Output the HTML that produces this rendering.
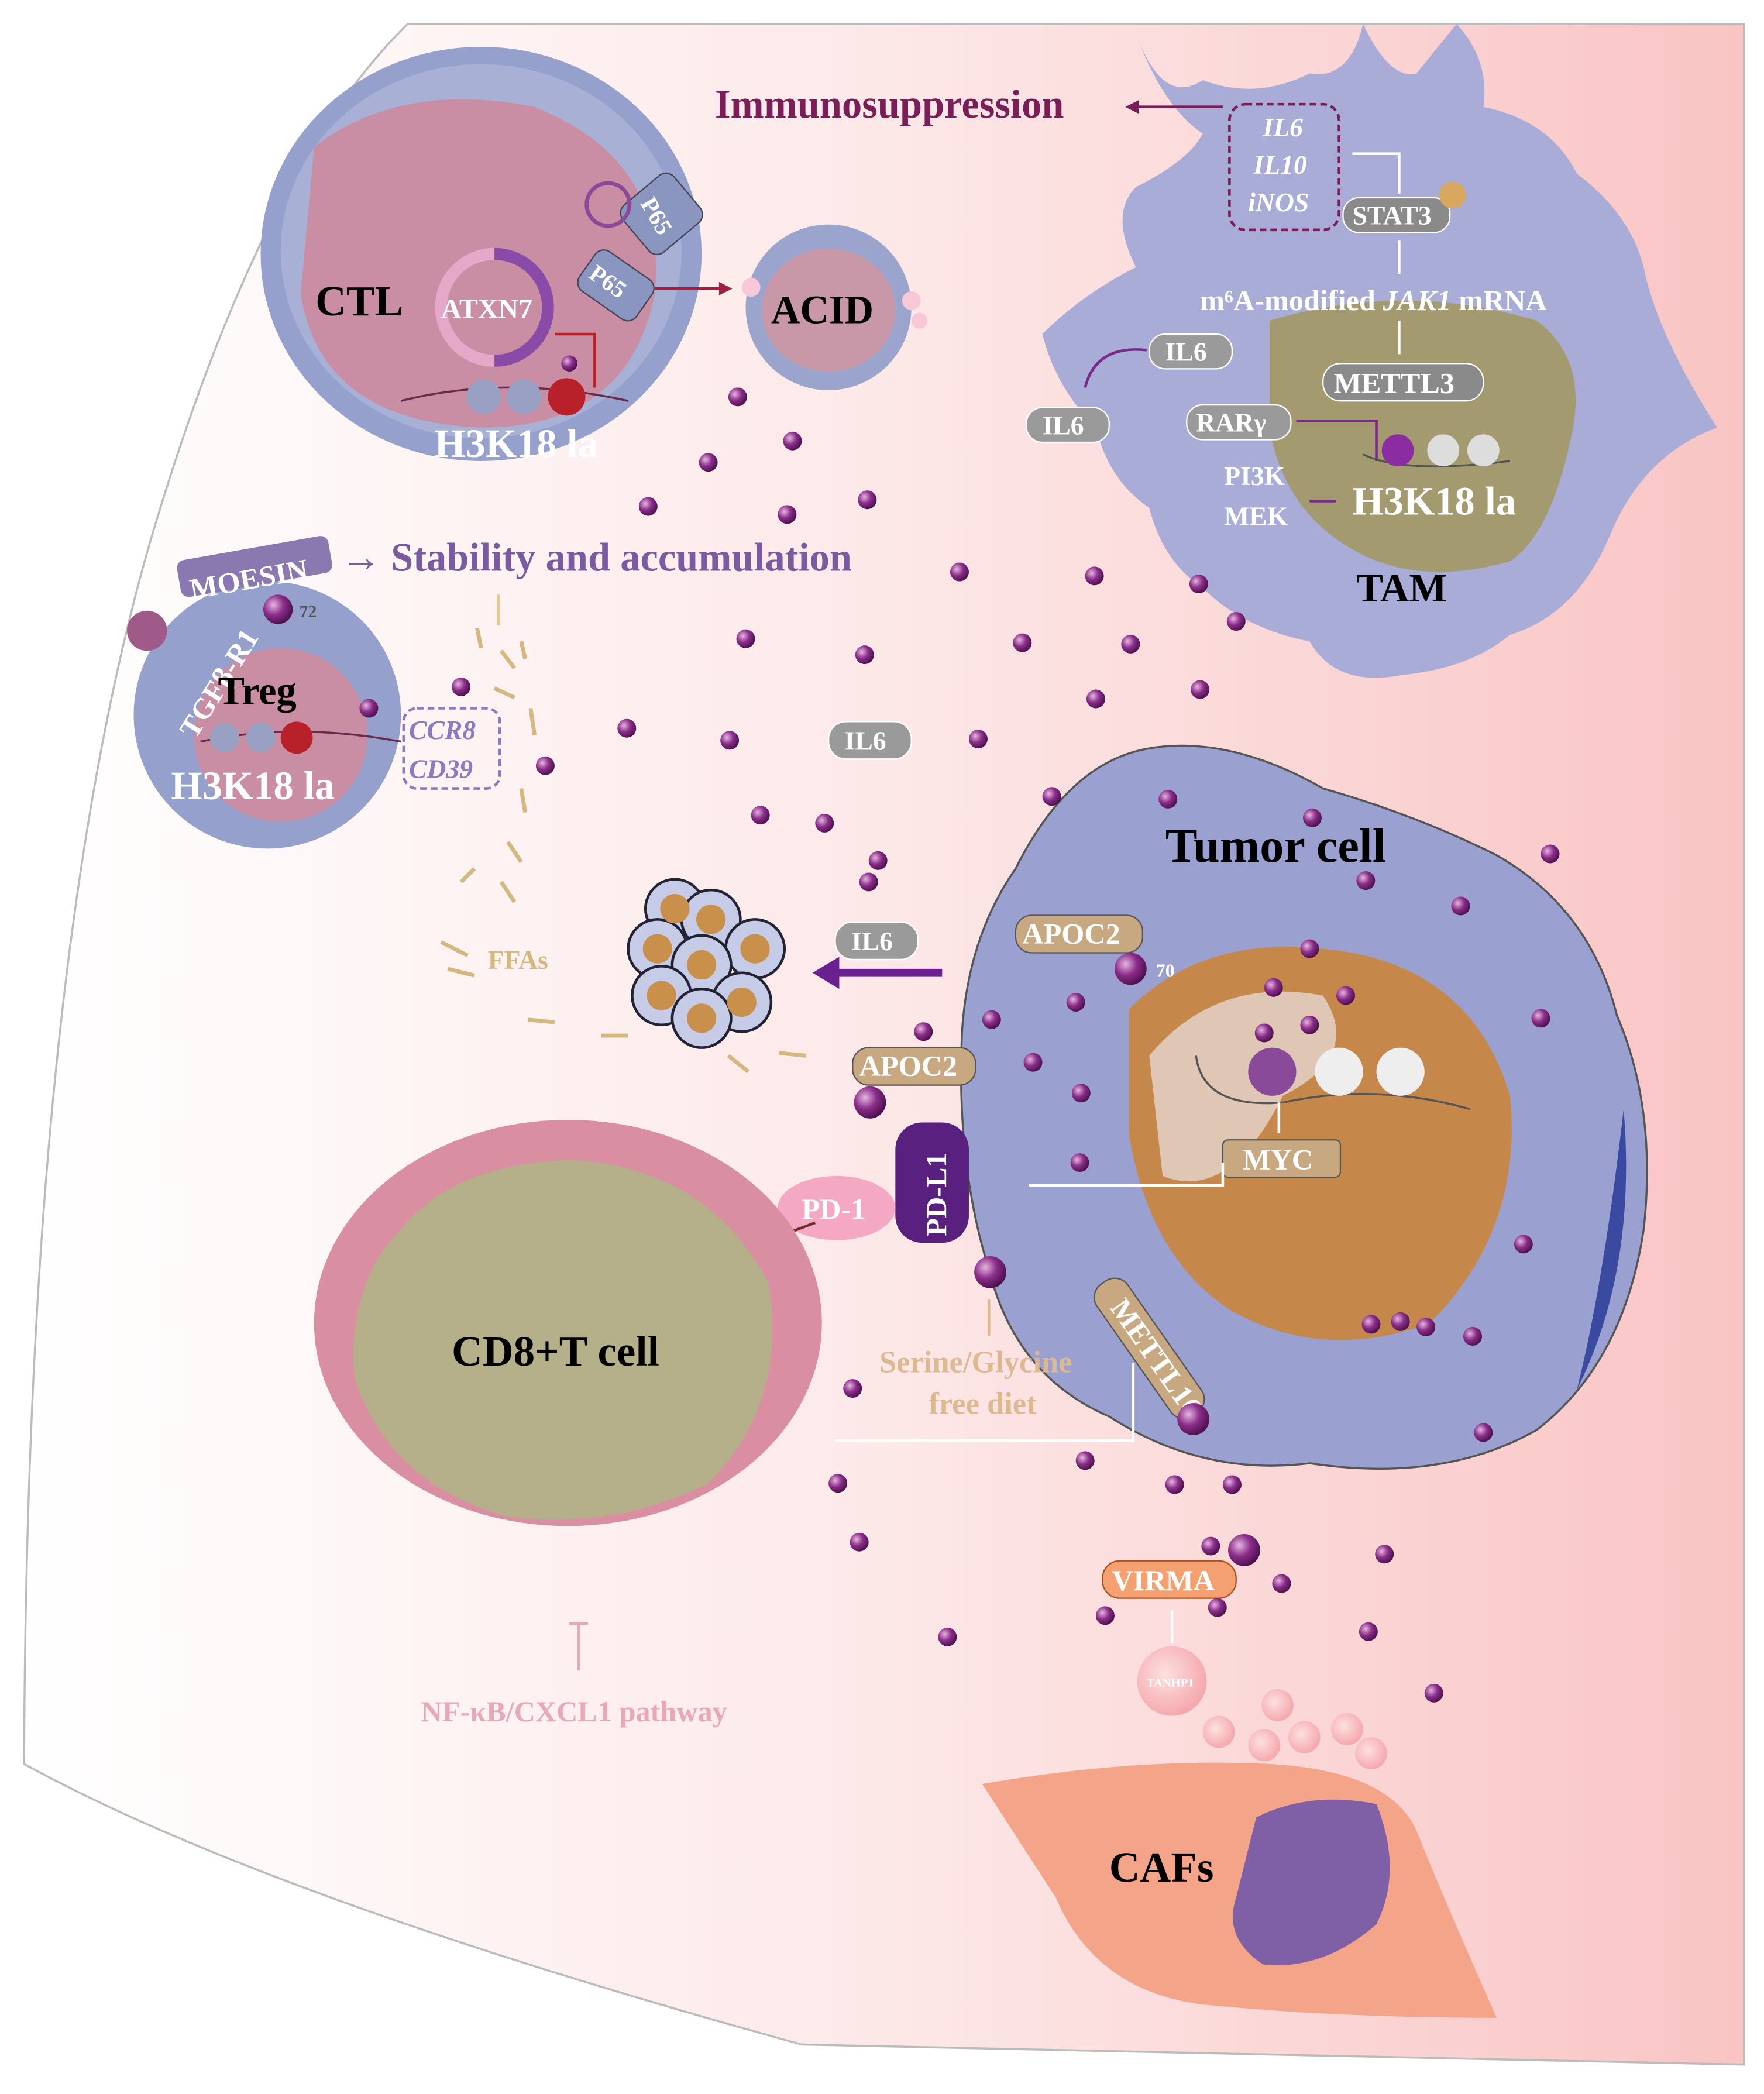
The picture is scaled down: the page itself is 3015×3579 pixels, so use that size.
<!DOCTYPE html>
<html><head><meta charset="utf-8"><style>
html,body{margin:0;padding:0;background:#fff}
svg{display:block}
text{font-family:"Liberation Serif",serif;font-weight:bold}
</style></head><body>
<svg width="3015" height="3579" viewBox="0 0 1320 1567" xmlns="http://www.w3.org/2000/svg">
<defs>
<linearGradient id="bg" x1="0" x2="1" y1="0" y2="0"><stop offset="0" stop-color="#ffffff"/><stop offset="0.5" stop-color="#fde8e8"/><stop offset="1" stop-color="#f9c4c4"/></linearGradient>
<radialGradient id="dot" cx="0.35" cy="0.35" r="0.7"><stop offset="0" stop-color="#e6b6e0"/><stop offset="0.5" stop-color="#8a2d8a"/><stop offset="1" stop-color="#4a0f4a"/></radialGradient>
<radialGradient id="pk" cx="0.4" cy="0.4" r="0.7"><stop offset="0" stop-color="#fde0e0"/><stop offset="1" stop-color="#f4a0a6"/></radialGradient>
</defs>
<path d="M305,18 L1305,18 L1305,1545 L600,1530 Q200,1420 18,1320 Q20,700 120,380 Q200,120 305,18 Z" fill="url(#bg)" stroke="#bbb" stroke-width="1.5"/>
<!-- CTL -->
<ellipse cx="360" cy="190" rx="165" ry="155" fill="#95a0cc"/>
<ellipse cx="360" cy="188" rx="150" ry="140" fill="#a8b0d6"/>
<path d="M235,110 Q300,60 400,80 Q500,120 490,220 Q470,320 360,320 Q240,315 225,220 Z" fill="#c98ea3"/>
<circle cx="370" cy="230" r="40" fill="none" stroke="#e6a8c8" stroke-width="9"/>
<path d="M370,190 A40,40 0 0 1 370,270" fill="none" stroke="#8a4aa8" stroke-width="9"/>
<text x="236" y="236" font-size="32">CTL</text>
<text x="330" y="238" font-size="21" fill="#fff">ATXN7</text>
<path d="M300,300 Q380,280 470,300" fill="none" stroke="#6a2a4a" stroke-width="1.5"/>
<circle cx="362" cy="297" r="13" fill="#9aa0c4"/><circle cx="392" cy="297" r="13" fill="#9aa0c4"/><circle cx="424" cy="297" r="14" fill="#b8202a"/>
<circle cx="426" cy="272" r="6" fill="url(#dot)"/>
<path d="M445,290 L445,250 L415,250" fill="none" stroke="#b8202a" stroke-width="2"/>
<text x="325" y="342" font-size="30" fill="#fff">H3K18 la</text>
<rect x="472" y="135" width="46" height="50" rx="8" fill="#8a95c0" stroke="#445" transform="rotate(50 495 160)"/>
<text x="480" y="170" font-size="18" fill="#fff" transform="rotate(60 495 160)">P65</text>
<rect x="435" y="195" width="52" height="36" rx="8" fill="#8a95c0" stroke="#445" transform="rotate(35 460 213)"/>
<text x="440" y="220" font-size="18" fill="#fff" transform="rotate(35 460 213)">P65</text>
<path d="M490,216 L545,216" stroke="#a02040" stroke-width="2"/><path d="M548,216 L538,211 L538,221Z" fill="#a02040"/>
<circle cx="455" cy="153" r="16" fill="none" stroke="#8a4a9a" stroke-width="3"/>
<!-- ACID -->
<circle cx="620" cy="230" r="62" fill="#9aa4cc"/>
<ellipse cx="620" cy="232" rx="50" ry="46" fill="#c998a8"/>
<text x="577" y="242" font-size="30">ACID</text>
<circle cx="562" cy="215" r="7" fill="#f8c8d8"/><circle cx="682" cy="225" r="7" fill="#f8c8d8"/><circle cx="688" cy="240" r="6" fill="#f8c8d8"/>
<!-- TAM -->
<path d="M850,25 Q870,80 900,60 Q940,75 980,55 Q1010,60 1020,18 Q1040,60 1060,55 Q1080,30 1090,18 Q1115,45 1110,80 Q1160,90 1180,130 Q1220,160 1230,200 Q1240,250 1285,320 Q1230,340 1205,400 Q1180,460 1130,475 Q1100,500 1050,505 Q1000,515 980,480 Q930,470 900,440 Q870,420 860,380 Q830,360 820,320 Q790,290 780,250 Q810,220 850,200 Q830,160 850,140 Q890,120 900,100 Q870,80 850,25 Z" fill="#a8acd6"/>
<path d="M950,240 Q1050,210 1150,240 Q1190,270 1175,330 Q1160,400 1130,420 Q1060,440 1010,410 Q960,380 950,320 Z" fill="#a39a70"/>
<text x="535" y="88" font-size="30" fill="#7a1e5a">Immunosuppression</text>
<path d="M915,80 L845,80" stroke="#7a1e5a" stroke-width="2"/><path d="M842,80 L852,75 L852,85Z" fill="#7a1e5a"/>
<rect x="920" y="78" width="82" height="94" rx="12" fill="none" stroke="#7a1e5a" stroke-width="2" stroke-dasharray="5,3"/>
<text x="945" y="102" font-size="20" fill="#fff" font-style="italic">IL6</text>
<text x="938" y="130" font-size="20" fill="#fff" font-style="italic">IL10</text>
<text x="934" y="158" font-size="20" fill="#fff" font-style="italic">iNOS</text>
<path d="M1047,145 L1047,115 L1012,115" fill="none" stroke="#fff" stroke-width="2"/>
<path d="M1047,205 L1047,180 M1047,265 L1047,240" stroke="#fff" stroke-width="2"/>
<rect x="1005" y="148" width="80" height="26" rx="12" fill="#8a8a8a" stroke="#fff"/>
<text x="1012" y="168" font-size="20" fill="#fff">STAT3</text>
<circle cx="1087" cy="146" r="10" fill="#d9a860"/>
<text x="898" y="232" font-size="22" fill="#fff">m⁶A-modified <tspan font-style="italic">JAK1</tspan> mRNA</text>
<rect x="990" y="272" width="120" height="28" rx="13" fill="#8a8a8a" stroke="#fff"/>
<text x="998" y="294" font-size="22" fill="#fff">METTL3</text>
<rect x="860" y="250" width="62" height="26" rx="12" fill="#9a9a9a" stroke="#fff"/>
<text x="872" y="270" font-size="20" fill="#fff">IL6</text>
<path d="M858,262 Q820,258 812,290" fill="none" stroke="#7a2a8a" stroke-width="2"/>
<rect x="768" y="305" width="62" height="26" rx="12" fill="#9a9a9a" stroke="#fff"/>
<text x="780" y="325" font-size="20" fill="#fff">IL6</text>
<rect x="888" y="303" width="78" height="26" rx="12" fill="#9a9a9a" stroke="#fff"/>
<text x="895" y="323" font-size="20" fill="#fff">RARγ</text>
<path d="M970,315 L1030,315 L1030,345" fill="none" stroke="#7a2a8a" stroke-width="2"/>
<path d="M1000,375 L980,375" stroke="#7a2a8a" stroke-width="2"/>
<text x="916" y="363" font-size="20" fill="#fff">PI3K</text>
<text x="916" y="393" font-size="20" fill="#fff">MEK</text>
<path d="M1020,340 Q1050,355 1130,345" fill="none" stroke="#555" stroke-width="1.5"/>
<circle cx="1046" cy="337" r="12" fill="#8a2da0"/><circle cx="1080" cy="337" r="12" fill="#ddd"/><circle cx="1110" cy="337" r="12" fill="#ddd"/>
<text x="1012" y="385" font-size="30" fill="#fff">H3K18 la</text>
<text x="1015" y="450" font-size="30">TAM</text>
<!-- Treg -->
<circle cx="200" cy="535" r="100" fill="#95a0cc"/>
<circle cx="210" cy="550" r="65" fill="#c98ea3"/>
<circle cx="110" cy="472" r="15" fill="#a05a8a"/>
<rect x="133" y="410" width="115" height="28" rx="6" fill="#8a78b0" transform="rotate(-10 190 424)"/>
<text x="140" y="440" font-size="22" fill="#fff" transform="rotate(-10 190 424)">MOESIN</text>
<text x="255" y="427" font-size="30" fill="#7a5aa0">→ Stability and accumulation</text>
<path d="M373,468 L373,445" stroke="#e8c890" stroke-width="2"/>
<circle cx="208" cy="456" r="11" fill="url(#dot)"/><text x="224" y="462" font-size="13" fill="#555">72</text>
<text x="105" y="560" font-size="22" fill="#fff" transform="rotate(-58 120 520)">TGFβ-R1</text>
<text x="163" y="527" font-size="30">Treg</text>
<path d="M150,555 Q220,540 300,555" fill="none" stroke="#6a2a4a" stroke-width="1.5"/>
<circle cx="168" cy="552" r="11" fill="#9aa0c4"/><circle cx="195" cy="552" r="11" fill="#9aa0c4"/><circle cx="222" cy="552" r="12" fill="#b8202a"/>
<text x="128" y="598" font-size="30" fill="#fff">H3K18 la</text>
<rect x="302" y="530" width="72" height="60" rx="10" fill="none" stroke="#8a7ac0" stroke-width="2" stroke-dasharray="5,3"/>
<text x="306" y="553" font-size="20" fill="#8a7ac0" font-style="italic">CCR8</text>
<text x="306" y="582" font-size="20" fill="#8a7ac0" font-style="italic">CD39</text>
<!-- FFAs and lipid cluster -->
<g stroke="#d4b880" stroke-width="3">
<line x1="357" y1="470" x2="360" y2="485"/><line x1="375" y1="487" x2="385" y2="500"/><line x1="370" y1="515" x2="385" y2="522"/><line x1="397" y1="530" x2="400" y2="550"/><line x1="390" y1="590" x2="393" y2="608"/><line x1="380" y1="630" x2="390" y2="645"/><line x1="345" y1="660" x2="355" y2="650"/><line x1="375" y1="660" x2="385" y2="675"/><line x1="330" y1="705" x2="350" y2="715"/><line x1="335" y1="725" x2="355" y2="730"/><line x1="395" y1="763" x2="415" y2="765"/><line x1="450" y1="775" x2="470" y2="775"/><line x1="545" y1="790" x2="560" y2="802"/><line x1="583" y1="788" x2="603" y2="790"/><line x1="390" y1="480" x2="393" y2="493"/>
</g>
<text x="365" y="725" font-size="20" fill="#d4b880">FFAs</text>
<g stroke="#223" stroke-width="2" fill="#c6cce8">
<circle cx="505" cy="680" r="22"/><circle cx="532" cy="688" r="22"/><circle cx="492" cy="710" r="22"/><circle cx="565" cy="710" r="22"/><circle cx="525" cy="722" r="22"/><circle cx="495" cy="745" r="22"/><circle cx="555" cy="750" r="22"/><circle cx="525" cy="762" r="22"/>
</g>
<g fill="#c8904a"><circle cx="505" cy="680" r="11"/><circle cx="532" cy="688" r="11"/><circle cx="492" cy="710" r="11"/><circle cx="565" cy="710" r="11"/><circle cx="525" cy="722" r="11"/><circle cx="495" cy="745" r="11"/><circle cx="555" cy="750" r="11"/><circle cx="525" cy="762" r="11"/></g>
<rect x="620" y="540" width="62" height="28" rx="13" fill="#9a9a9a" stroke="#fff"/><text x="632" y="561" font-size="20" fill="#fff">IL6</text>
<rect x="625" y="690" width="62" height="28" rx="13" fill="#9a9a9a" stroke="#fff"/><text x="637" y="711" font-size="20" fill="#fff">IL6</text>
<path d="M705,728 L620,728" stroke="#6a2090" stroke-width="6"/><path d="M608,728 L628,716 L628,740 Z" fill="#6a2090"/>
<!-- Tumor cell -->
<path d="M760,650 Q800,570 860,560 Q920,550 990,590 Q1060,610 1120,640 Q1190,680 1210,760 Q1240,830 1230,920 Q1215,1020 1150,1070 Q1080,1110 980,1095 Q900,1105 830,1060 Q760,1030 740,950 Q715,870 720,770 Q725,700 760,650 Z" fill="#9aa0d0" stroke="#555" stroke-width="1.5"/>
<path d="M1215,830 Q1225,950 1180,1040 Q1200,960 1215,830 Z" fill="#3a4aa0"/>
<path d="M845,755 Q900,700 990,710 Q1100,720 1130,820 Q1140,920 1070,990 Q990,1020 920,980 Q860,940 845,850 Z" fill="#c6884a"/>
<path d="M860,790 Q910,730 990,745 Q1020,790 960,820 Q920,900 870,880 Z" fill="#e0c6b4"/>
<text x="872" y="645" font-size="36">Tumor cell</text>
<path d="M895,790 Q900,830 960,825 Q1030,810 1100,830" fill="none" stroke="#555" stroke-width="1.5"/>
<circle cx="952" cy="802" r="18" fill="#8a4a9a"/><circle cx="1002" cy="802" r="18" fill="#eee"/><circle cx="1048" cy="802" r="18" fill="#eee"/>
<path d="M957,825 L957,848" stroke="#fff" stroke-width="2"/>
<rect x="915" y="853" width="88" height="28" rx="4" fill="#c8a880" stroke="#555"/>
<text x="930" y="875" font-size="22" fill="#fff">MYC</text>
<path d="M915,870 L915,887 L770,887" stroke="#fff" stroke-width="2" fill="none"/>
<rect x="760" y="685" width="95" height="28" rx="12" fill="#c8a880" stroke="#555"/><text x="765" y="706" font-size="22" fill="#fff">APOC2</text>
<circle cx="846" cy="725" r="12" fill="url(#dot)"/><text x="865" y="731" font-size="14" fill="#fff">70</text>
<rect x="638" y="784" width="92" height="28" rx="12" fill="#c8a880" stroke="#555"/><text x="643" y="805" font-size="22" fill="#fff">APOC2</text>
<circle cx="651" cy="825" r="12" fill="url(#dot)"/>
<rect x="670" y="840" width="55" height="90" rx="20" fill="#5a2080"/>
<text x="708" y="925" font-size="22" fill="#fff" transform="rotate(-90 708 925)">PD-L1</text>
<circle cx="741" cy="952" r="12" fill="url(#dot)"/>
<ellipse cx="626" cy="904" rx="44" ry="24" fill="#f4a8c4"/><text x="600" y="912" font-size="22" fill="#fff">PD-1</text>
<path d="M610,915 L530,945" stroke="#6a3030" stroke-width="2"/>
<rect x="800" y="995" width="120" height="28" rx="12" fill="#c8a880" stroke="#555" transform="rotate(55 860 1009)"/>
<text x="818" y="1016" font-size="22" fill="#fff" transform="rotate(55 860 1009)">METTL16</text>
<circle cx="893" cy="1062" r="12" fill="url(#dot)"/>
<path d="M848,1020 L848,1078 L625,1078" stroke="#fff" stroke-width="2" fill="none"/>
<text x="658" y="1027" font-size="23" fill="#ddb890">Serine/Glycine</text>
<text x="695" y="1058" font-size="23" fill="#ddb890">free diet</text>
<path d="M740,1000 L740,972" stroke="#ddb890" stroke-width="2"/>
<!-- CD8 -->
<ellipse cx="425" cy="990" rx="190" ry="152" fill="#d98ea2"/>
<path d="M300,920 Q340,870 430,868 Q530,875 575,960 Q590,1050 530,1110 Q460,1145 380,1135 Q290,1110 265,1030 Q260,960 300,920 Z" fill="#b6b08a"/>
<text x="338" y="1022" font-size="32">CD8+T cell</text>
<path d="M433,1250 L433,1215 M426,1215 L440,1215" stroke="#e8a8b8" stroke-width="2"/>
<text x="315" y="1288" font-size="22" fill="#e8a8b8">NF-κB/CXCL1 pathway</text>
<!-- VIRMA, CAFs -->
<rect x="825" y="1168" width="100" height="28" rx="13" fill="#f4a070" stroke="#b05020"/>
<text x="832" y="1190" font-size="22" fill="#fff">VIRMA</text>
<circle cx="931" cy="1160" r="12" fill="url(#dot)"/>
<path d="M877,1230 L877,1205" stroke="#fff" stroke-width="2"/>
<circle cx="877" cy="1258" r="26" fill="url(#pk)"/><text x="858" y="1262" font-size="9" fill="#fff">TANHP1</text>
<g fill="url(#pk)"><circle cx="956" cy="1276" r="12"/><circle cx="912" cy="1296" r="12"/><circle cx="946" cy="1306" r="12"/><circle cx="976" cy="1300" r="12"/><circle cx="1008" cy="1294" r="12"/><circle cx="1026" cy="1312" r="12"/></g>
<path d="M735,1335 Q850,1315 950,1320 Q1040,1325 1060,1370 Q1080,1420 1120,1510 Q1000,1510 900,1500 Q820,1490 790,1420 Z" fill="#f4a488"/>
<path d="M940,1360 Q980,1340 1030,1350 Q1050,1400 1030,1440 Q990,1475 945,1470 Q915,1450 925,1420 Z" fill="#7f5fa5"/>
<text x="830" y="1408" font-size="32">CAFs</text>
<!-- dots -->
<g fill="url(#dot)">
<circle cx="552" cy="297" r="7"/><circle cx="593" cy="330" r="7"/><circle cx="530" cy="346" r="7"/><circle cx="485" cy="379" r="7"/><circle cx="589" cy="385" r="7"/><circle cx="649" cy="374" r="7"/><circle cx="718" cy="428" r="7"/><circle cx="819" cy="431" r="7"/><circle cx="897" cy="437" r="7"/><circle cx="558" cy="478" r="7"/><circle cx="647" cy="490" r="7"/><circle cx="765" cy="481" r="7"/><circle cx="846" cy="482" r="7"/><circle cx="925" cy="465" r="7"/><circle cx="820" cy="523" r="7"/><circle cx="898" cy="516" r="7"/><circle cx="345" cy="514" r="7"/><circle cx="276" cy="530" r="7"/><circle cx="469" cy="545" r="7"/><circle cx="546" cy="554" r="7"/><circle cx="732" cy="553" r="7"/><circle cx="408" cy="573" r="7"/><circle cx="787" cy="596" r="7"/><circle cx="569" cy="610" r="7"/><circle cx="617" cy="616" r="7"/><circle cx="657" cy="644" r="7"/><circle cx="650" cy="660" r="7"/><circle cx="874" cy="598" r="7"/><circle cx="982" cy="612" r="7"/><circle cx="1022" cy="659" r="7"/><circle cx="1093" cy="678" r="7"/><circle cx="1160" cy="639" r="7"/><circle cx="980" cy="710" r="7"/><circle cx="953" cy="739" r="7"/><circle cx="1007" cy="745" r="7"/><circle cx="980" cy="767" r="7"/><circle cx="946" cy="773" r="7"/><circle cx="805" cy="750" r="7"/><circle cx="742" cy="763" r="7"/><circle cx="691" cy="772" r="7"/><circle cx="773" cy="795" r="7"/><circle cx="809" cy="818" r="7"/><circle cx="808" cy="870" r="7"/><circle cx="1153" cy="762" r="7"/><circle cx="1140" cy="931" r="7"/><circle cx="1026" cy="991" r="7"/><circle cx="1048" cy="989" r="7"/><circle cx="1067" cy="993" r="7"/><circle cx="1102" cy="1000" r="7"/><circle cx="638" cy="1039" r="7"/><circle cx="812" cy="1093" r="7"/><circle cx="879" cy="1111" r="7"/><circle cx="922" cy="1111" r="7"/><circle cx="1110" cy="1072" r="7"/><circle cx="627" cy="1110" r="7"/><circle cx="643" cy="1154" r="7"/><circle cx="906" cy="1157" r="7"/><circle cx="1036" cy="1163" r="7"/><circle cx="959" cy="1185" r="7"/><circle cx="827" cy="1209" r="7"/><circle cx="911" cy="1203" r="7"/><circle cx="709" cy="1225" r="7"/><circle cx="1024" cy="1221" r="7"/><circle cx="1073" cy="1267" r="7"/>
</g>
</svg>
</body></html>
